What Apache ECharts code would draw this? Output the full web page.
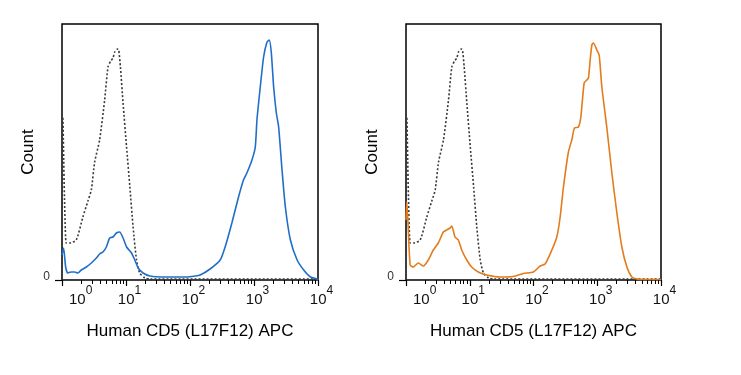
<!DOCTYPE html>
<html>
<head>
<meta charset="utf-8">
<script src="https://cdn.jsdelivr.net/npm/echarts@6/dist/echarts.min.js"></script>
<style>
  html, body { margin: 0; padding: 0; background: #fff; }
  #chart { width: 741px; height: 375px; }
</style>
</head>
<body>
<div id="chart"></div>
<script>
// decade ticks on the APC axis and their exponent labels
const majorTicks = [1, 10, 100, 1000, 10000];
const tickExponents = ['0', '1', '2', '3', '4'];
const minorTicks = [
  2, 3, 4, 5, 6, 7, 8, 9,
  20, 30, 40, 50, 60, 70, 80, 90,
  200, 300, 400, 500, 600, 700, 800, 900,
  2000, 3000, 4000, 5000, 6000, 7000, 8000, 9000,
];

// isotype control (dotted), same in both panels: [APC, count]
const isotype = [
  [1, 0], [1.03, 163], [1.16, 37], [1.31, 37], [1.67, 40], [2.12, 63],
  [2.54, 79], [2.87, 90], [3.24, 118], [3.87, 140], [4.64, 180], [5.23, 213],
  [5.77, 219], [6.27, 222], [6.66, 228], [7.35, 231], [7.7, 230], [8.18, 213],
  [9.0, 177], [10.2, 133], [11.5, 93], [12.9, 53], [14.6, 20], [16.4, 7],
  [19.7, 2], [23.6, 1], [10000, 1],
];

// left panel, blue stain
const stainBlue = [
  [1.0, 25], [1.06, 32], [1.14, 13], [1.23, 7], [1.39, 8], [1.57, 8],
  [1.77, 7], [2.0, 10], [2.4, 13], [2.87, 17], [3.44, 22], [3.87, 26],
  [4.37, 28], [4.93, 33], [5.56, 42], [6.27, 43], [7.08, 47], [7.98, 48],
  [9.0, 42], [10.2, 33], [12.2, 27], [13.7, 20], [15.5, 12], [18.5, 7],
  [23.6, 4], [40.6, 3], [58.2, 3], [88.7, 3], [120, 4], [144, 5],
  [206, 11], [296, 20], [354, 33], [451, 57], [573, 83], [685, 100],
  [774, 107], [929, 120], [1047, 133], [1112, 160], [1253, 193], [1413, 223],
  [1596, 238], [1734, 240], [1866, 227], [2028, 193], [2234, 167], [2427, 153],
  [2742, 110], [3090, 73], [3707, 40], [4721, 20], [5984, 10], [7621, 3],
  [9705, 1], [10000, 0],
];

// right panel, orange stain
const stainOrange = [
  [1.0, 60], [1.03, 78], [1.16, 15], [1.3, 13], [1.56, 17], [1.87, 14],
  [2.24, 20], [2.68, 30], [3.21, 37], [3.85, 48], [4.35, 50], [4.91, 52],
  [5.22, 54], [5.88, 43], [6.62, 40], [7.48, 30], [8.97, 20], [10.7, 13],
  [13.6, 8], [18.5, 5], [29.9, 3], [48.3, 3.5], [69.3, 6.5], [99.6, 8],
  [127, 14], [152, 16], [194, 30], [232, 43], [262, 63], [295, 93],
  [353, 128], [399, 140], [439, 152], [507, 153], [553, 163], [623, 197],
  [687, 200], [728, 202], [774, 220], [823, 235], [871, 237], [986, 230],
  [1072, 225], [1181, 193], [1416, 152], [1695, 107], [2032, 67], [2432, 33],
  [2917, 13], [3491, 3], [4188, 1], [5312, 0.5], [10000, 0.5],
];

const xTitle = 'Human CD5 (L17F12) APC';
const yTitle = 'Count';
const yMax = 256;

const FONT = '"Liberation Sans", Arial, sans-serif';

function decadeLabel(val) {
  const i = Math.round(Math.log10(val));
  return `{b|10}{s|${tickExponents[i]}}`;
}

function xAxesFor(gridIndex) {
  return [
    {
      type: 'log',
      logBase: 10,
      gridIndex,
      position: 'bottom',
      min: 1,
      max: 10000,
      name: xTitle,
      nameLocation: 'middle',
      nameGap: 43,
      nameTextStyle: { fontFamily: FONT, fontSize: 17, color: '#000' },
      axisLine: { show: false },
      splitLine: { show: false },
      axisTick: {
        show: true,
        length: 6,
        customValues: majorTicks,
        lineStyle: { color: '#000', width: 1.2 },
      },
      axisLabel: {
        customValues: majorTicks,
        margin: 5,
        alignMinLabel: 'left',
        formatter: decadeLabel,
        rich: {
          b: { fontFamily: FONT, fontSize: 15, color: '#111', lineHeight: 22, padding: [0, 0, 0, 7], verticalAlign: 'bottom' },
          s: { fontFamily: FONT, fontSize: 12, color: '#111', lineHeight: 12, verticalAlign: 'top' },
        },
      },
    },
    {
      type: 'log',
      logBase: 10,
      gridIndex,
      position: 'bottom',
      offset: 0,
      min: 1,
      max: 10000,
      axisLine: { show: false },
      splitLine: { show: false },
      axisLabel: { show: false },
      axisTick: {
        show: true,
        length: 4,
        customValues: minorTicks,
        lineStyle: { color: '#000', width: 1 },
      },
    },
  ];
}

function yAxisFor(gridIndex) {
  return {
    type: 'value',
    gridIndex,
    min: 0,
    max: yMax,
    name: yTitle,
    nameLocation: 'middle',
    nameGap: 25,
    nameTextStyle: { fontFamily: FONT, fontSize: 17, color: '#000' },
    axisLine: { show: false },
    splitLine: { show: false },
    axisTick: {
      show: true,
      length: 7,
      customValues: [0],
      lineStyle: { color: '#000', width: 1.2 },
    },
    axisLabel: {
      customValues: [0],
      margin: 12,
      fontFamily: FONT,
      fontSize: 12,
      color: '#333',
      verticalAlign: 'bottom',
      lineHeight: 7,
    },
  };
}

function histSeries(data, xAxisIndex, yAxisIndex, color, dotted) {
  return {
    type: 'line',
    data,
    xAxisIndex,
    yAxisIndex,
    showSymbol: false,
    smooth: 0.2,
    animation: false,
    lineStyle: {
      color,
      width: 1.6,
      type: dotted ? [2, 2] : 'solid',
    },
  };
}

const chart = echarts.init(document.getElementById('chart'));
chart.setOption({
  backgroundColor: '#fff',
  animation: false,
  grid: [
    { left: 62, top: 24, width: 256, height: 256, show: true, borderColor: '#000', borderWidth: 1.5, backgroundColor: 'transparent' },
    { left: 406, top: 24, width: 255, height: 256, show: true, borderColor: '#000', borderWidth: 1.5, backgroundColor: 'transparent' },
  ],
  xAxis: [...xAxesFor(0), ...xAxesFor(1)],
  yAxis: [yAxisFor(0), yAxisFor(1)],
  series: [
    histSeries(isotype, 0, 0, '#3a3a3a', true),
    histSeries(stainBlue, 0, 0, '#1f6fc8', false),
    histSeries(isotype, 2, 1, '#3a3a3a', true),
    histSeries(stainOrange, 2, 1, '#e27c1c', false),
  ],
});
</script>
</body>
</html>
